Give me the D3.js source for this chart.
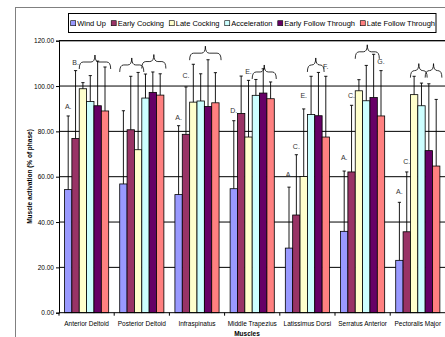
<!DOCTYPE html>
<html>
<head>
<meta charset="utf-8">
<title>Muscle activation</title>
<style>
  body { margin: 0; background: #fff; }
  text { font-family: "Liberation Sans", Arial, sans-serif; }
</style>
</head>
<body>
<script src="https://d3js.org/d3.v7.min.js"></script>
<script>
// ---- data ----
var categories = ["Anterior Deltoid", "Posterior Deltoid", "Infraspinatus", "Middle Trapezius",
                  "Latissimus Dorsi", "Serratus Anterior", "Pectoralis Major"];
var seriesNames = ["Wind Up", "Early Cocking", "Late Cocking", "Acceleration",
                   "Early Follow Through", "Late Follow Through"];
var colors = ["#9999FF", "#993366", "#FFFFCC", "#CCFFFF", "#660066", "#FF8080"];

var windUp       = [54.3, 56.8, 52.1, 54.7, 28.5, 35.9, 23.1];
var earlyCocking = [76.9, 80.7, 78.7, 87.9, 43.1, 62.1, 35.7];
var lateCocking  = [98.8, 71.9, 92.9, 77.5, 60.1, 97.9, 96.2];
var acceleration = [93.2, 94.7, 93.4, 95.9, 87.4, 93.5, 91.3];
var earlyFollow  = [91.3, 97.2, 91.0, 96.9, 86.9, 94.9, 71.5];
var lateFollow   = [89.0, 96.0, 92.6, 94.4, 77.5, 86.8, 64.7];

// upper error bars (standard deviation)
var sdWindUp       = [32.5, 32.3, 30.4, 30.0, 26.9, 26.6, 25.6];
var sdEarlyCocking = [29.9, 23.6, 20.9, 16.5, 26.6, 29.4, 26.4];
var sdLateCocking  = [2.7, 34.1, 16.7, 25.0, 29.8, 4.9, 8.1];
var sdAcceleration = [11.4, 10.6, 12.0, 7.0, 16.9, 15.6, 10.0];
var sdEarlyFollow  = [19.7, 9.0, 20.6, 10.7, 19.1, 19.1, 29.5];
var sdLateFollow   = [19.4, 9.4, 13.3, 7.4, 26.8, 20.0, 29.4];

var yTicks = [0, 20, 40, 60, 80, 100, 120];

// significance letters: [category, series, text, level]
var letters = [
  [0, 0, "A.", 90.9], [0, 1, "B.", 110.3],
  [2, 0, "A.", 86.2], [2, 1, "C.", 104.5],
  [3, 0, "D.", 89.0], [3, 2, "E.", 106.6],
  [4, 0, "A.", 61.0], [4, 1, "C.", 73.2], [4, 2, "E.", 95.6], [4, 5, "F.", 108.5],
  [5, 0, "A.", 68.4], [5, 1, "C.", 95.6], [5, 5, "G.", 110.7],
  [6, 0, "A.", 53.4], [6, 1, "C.", 66.9]
];
// braces: [category, first series, last series, level]
var braces = [
  [0, 2, 5, 110.6], [1, 0, 2, 109.3], [1, 3, 5, 110.8], [2, 2, 5, 114.5],
  [3, 3, 5, 106.2], [4, 3, 4, 109.3], [5, 2, 4, 115.1], [6, 2, 3, 106.8], [6, 4, 5, 106.8]
];

var values = [windUp, earlyCocking, lateCocking, acceleration, earlyFollow, lateFollow];
var errors = [sdWindUp, sdEarlyCocking, sdLateCocking, sdAcceleration, sdEarlyFollow, sdLateFollow];

const W = 445, H = 337;
const pLeft = 59, pRight = 445.4, pTop = 40.7, pBottom = 312.7;

const svg = d3.select("body").append("svg")
    .attr("width", W).attr("height", H);

// chart frame
svg.append("rect")
    .attr("x", 15.5).attr("y", 7.5).attr("width", 460).attr("height", 360)
    .attr("fill", "none").attr("stroke", "#808080").attr("stroke-width", 1);

const x = d3.scaleBand().domain(categories).range([pLeft, pRight]).padding(0);
const xs = d3.scaleBand().domain(d3.range(seriesNames.length))
    .range([0, x.bandwidth()]).paddingInner(0).paddingOuter(0.75);
const y = d3.scaleLinear().domain([0, 120]).range([pBottom, pTop]);

// gridlines
svg.append("g").selectAll("line")
    .data(yTicks.filter(function(d) { return d > 0; }))
    .enter().append("line")
    .attr("x1", pLeft).attr("x2", pRight)
    .attr("y1", function(d) { return y(d); }).attr("y2", function(d) { return y(d); })
    .attr("stroke", "#000").attr("stroke-width", 1);

// bars
var rows = [];
categories.forEach(function(c, ci) {
  seriesNames.forEach(function(s, si) {
    rows.push({ c: c, ci: ci, si: si, v: values[si][ci], e: errors[si][ci] });
  });
});

svg.append("g").selectAll("rect")
    .data(rows).enter().append("rect")
    .attr("x", function(d) { return x(d.c) + xs(d.si); })
    .attr("y", function(d) { return y(d.v); })
    .attr("width", xs.bandwidth())
    .attr("height", function(d) { return y(0) - y(d.v); })
    .attr("fill", function(d) { return colors[d.si]; })
    .attr("stroke", "#000").attr("stroke-width", 0.8);

// error bars
var eb = svg.append("g").attr("stroke", "#000").attr("stroke-width", 0.9);
rows.forEach(function(d) {
  var cx = x(d.c) + xs(d.si) + xs.bandwidth() / 2;
  eb.append("line").attr("x1", cx).attr("x2", cx)
    .attr("y1", y(d.v)).attr("y2", y(d.v + d.e));
  eb.append("line").attr("x1", cx - 1.6).attr("x2", cx + 1.6)
    .attr("y1", y(d.v + d.e)).attr("y2", y(d.v + d.e));
});

// braces
svg.append("g").selectAll("path")
    .data(braces).enter().append("path")
    .attr("fill", "none").attr("stroke", "#000").attr("stroke-width", 0.8)
    .attr("d", function(b) {
      var x0 = x(categories[b[0]]) + xs(b[1]);
      var x1 = x(categories[b[0]]) + xs(b[2]) + xs.bandwidth() + 2;
      var yl = y(b[3]), xc = (x0 + x1) / 2;
      return "M" + x0 + "," + (yl + 7) + "Q" + x0 + "," + yl + " " + (x0 + 4) + "," + yl +
             "L" + (xc - 4) + "," + yl + "Q" + xc + "," + yl + " " + xc + "," + (yl - 7) +
             "Q" + xc + "," + yl + " " + (xc + 4) + "," + yl +
             "L" + (x1 - 4) + "," + yl + "Q" + x1 + "," + yl + " " + x1 + "," + (yl + 7);
    });

// letters
svg.append("g").selectAll("text")
    .data(letters).enter().append("text")
    .attr("x", function(l) { return x(categories[l[0]]) + xs(l[1]) + xs.bandwidth() / 2; })
    .attr("y", function(l) { return y(l[3]); })
    .attr("dy", "0.35em")
    .attr("text-anchor", "middle")
    .attr("font-size", 7).attr("fill", "#333")
    .text(function(l) { return l[2]; });

// top border of plot
svg.append("line").attr("x1", pLeft).attr("x2", pRight)
    .attr("y1", pTop).attr("y2", pTop).attr("stroke", "#000");

// y axis
const yAxis = svg.append("g")
    .attr("transform", "translate(" + pLeft + ",0)")
    .call(d3.axisLeft(y).tickValues(yTicks).tickFormat(d3.format(".2f"))
      .tickSize(3).tickPadding(2));
yAxis.select(".domain").attr("stroke", "#000");
yAxis.selectAll("text").attr("font-size", 6.5).attr("fill", "#000")
    .style("font-family", "'Liberation Sans', Arial, sans-serif");

// x axis with ticks at category boundaries
const xAxis = svg.append("g").attr("transform", "translate(0," + pBottom + ")");
xAxis.append("line").attr("x1", pLeft).attr("x2", pRight).attr("stroke", "#000");
xAxis.selectAll(".tk").data(categories).enter().append("line")
    .attr("class", "tk")
    .attr("x1", function(c) { return x(c); }).attr("x2", function(c) { return x(c); })
    .attr("y1", 0).attr("y2", 3).attr("stroke", "#000");
xAxis.selectAll("text").data(categories).enter().append("text")
    .attr("x", function(c) { return x(c) + x.bandwidth() / 2; })
    .attr("y", 13.5)
    .attr("text-anchor", "middle").attr("font-size", 6.5)
    .text(function(c) { return c; });

// axis titles
svg.append("text")
    .attr("transform", "translate(32," + 176.5 + ") rotate(-90)")
    .attr("text-anchor", "middle").attr("font-size", 6.5).attr("font-weight", "bold")
    .text("Muscle activation (% of phase)");
svg.append("text")
    .attr("x", 247).attr("y", 335.5)
    .attr("text-anchor", "middle").attr("font-size", 6.5).attr("font-weight", "bold")
    .text("Muscles");

// legend
svg.append("rect")
    .attr("x", 68.5).attr("y", 13.5).attr("width", 367.5).attr("height", 19)
    .attr("fill", "#fff").attr("stroke", "#000");
var lg = svg.append("g");
var items = seriesNames.map(function(s, i) {
  var g = lg.append("g");
  g.append("rect").attr("width", 5).attr("height", 5).attr("y", -2.5)
    .attr("fill", colors[i]).attr("stroke", "#000").attr("stroke-width", 0.6);
  var t = g.append("text").attr("x", 6.5).attr("dy", "0.35em")
    .attr("font-size", 7.5).text(s);
  return { g: g, w: 6.5 + t.node().getComputedTextLength() };
});
var startX = 70.7, endX = 435;
var total = d3.sum(items, function(d) { return d.w; });
var gap = (endX - startX - total) / (items.length - 1);
var cx = startX;
items.forEach(function(it) {
  it.g.attr("transform", "translate(" + cx + ",23.2)");
  cx += it.w + gap;
});
</script>
</body>
</html>
